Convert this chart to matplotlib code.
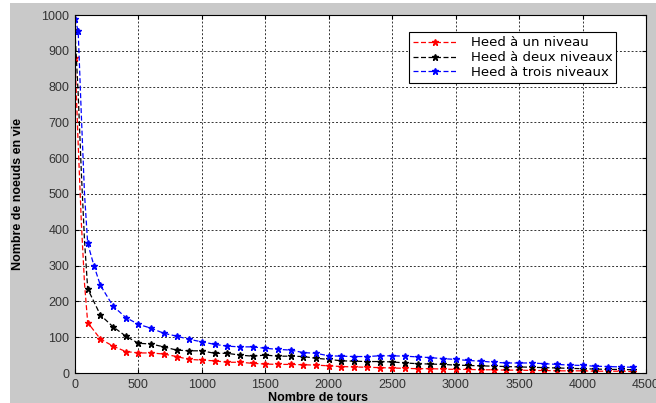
import matplotlib
matplotlib.use("Agg")
import matplotlib.pyplot as plt
from matplotlib.patches import Rectangle

plt.rcParams['font.family'] = ['Liberation Sans', 'DejaVu Sans']

# rounds (x) and nodes alive (y) for each protocol variant
x_red = [0, 25, 50, 75, 100, 200, 300, 400, 500, 600, 700, 800, 900, 1000,
         1100, 1200, 1300, 1400, 1500, 1600, 1700, 1800, 1900, 2000, 2100,
         2200, 2300, 2400, 2500, 2600, 2700, 2800, 2900, 3000, 3100, 3200,
         3300, 3400, 3500, 3600, 3700, 3800, 3900, 4000, 4100, 4200, 4300, 4400]
y_red = [880, 640, 420, 250, 141, 95, 75, 60, 56, 56, 53, 46, 38, 36,
         34, 30, 30, 27, 25, 24, 24, 23, 22, 20, 18, 17, 16, 15, 14, 13,
         12, 12, 11, 10, 10, 9, 9, 8, 8, 7, 7, 6, 6, 6, 5, 5, 5, 4]

x_black = x_red
y_black = [955, 780, 560, 370, 235, 162, 129, 103, 83, 81, 73, 64, 62, 62,
           55, 55, 50, 47, 50, 47, 47, 46, 41, 38, 34, 33, 32, 32, 31, 28,
           26, 25, 24, 22, 21, 20, 19, 18, 17, 16, 15, 14, 13, 12, 11, 10, 10, 9]

x_blue = [0, 25, 50, 75, 100, 150, 200, 300, 400, 500, 600, 700, 800, 900,
          1000, 1100, 1200, 1300, 1400, 1500, 1600, 1700, 1800, 1900, 2000,
          2100, 2200, 2300, 2400, 2500, 2600, 2700, 2800, 2900, 3000, 3100,
          3200, 3300, 3400, 3500, 3600, 3700, 3800, 3900, 4000, 4100, 4200,
          4300, 4400]
y_blue = [990, 955, 720, 500, 362, 299, 245, 187, 155, 136, 125, 111, 103,
          94, 87, 80, 75, 73, 73, 69, 66, 64, 57, 55, 48, 47, 46, 46, 48,
          48, 47, 45, 43, 40, 38, 35, 33, 30, 28, 28, 28, 26, 24, 22, 21,
          19, 18, 17, 16]

labels = ["Heed à un niveau", "Heed à deux niveaux", "Heed à trois niveaux"]

fig = plt.figure(figsize=(6.56, 4.03), dpi=100, facecolor='white')
fig.patches.append(Rectangle((10 / 656, 0), 1, 400 / 403, transform=fig.transFigure,
                             facecolor='#c9c9c9', edgecolor='none', zorder=-10))
ax = fig.add_axes([75 / 656, 30 / 403, 571 / 656, 358 / 403])
ax.set_facecolor('white')

style = dict(linestyle='--', dashes=(4, 2), linewidth=0.9, marker='*', markersize=5)
ax.plot(x_red, y_red, color='red', label=labels[0],
        markevery=[0] + list(range(4, len(x_red))), **style)
ax.plot(x_black, y_black, color='black', label=labels[1],
        markevery=[0] + list(range(4, len(x_black))), **style)
ax.plot(x_blue, y_blue, color='blue', label=labels[2],
        markevery=[0, 1] + list(range(4, len(x_blue))), **style)

ax.set_xlim(0, 4500)
ax.set_ylim(0, 1000)
ax.set_xticks(range(0, 4501, 500))
ax.set_yticks(range(0, 1001, 100))
ax.grid(True, color='#333333', linestyle=(0, (2, 2)), linewidth=0.7)
ax.tick_params(direction='in', labelsize=9, colors='black', labelcolor='#333333',
               top=True, right=True, length=3, pad=4)
for s in ax.spines.values():
    s.set_linewidth(0.8)

ax.set_xlabel("Nombre de tours", fontsize=9, fontweight='bold')
ax.set_ylabel("Nombre de noeuds en vie", fontsize=9, fontweight='bold')
ax.xaxis.set_label_coords((318 - 75) / 571, -0.052)
ax.yaxis.set_label_coords(-0.09, 0.5)

leg = ax.legend(loc='upper right', bbox_to_anchor=(0.948, 0.952),
                prop={'family': 'DejaVu Sans', 'size': 9.5},
                fancybox=False, edgecolor='black', framealpha=1,
                borderpad=0.3, labelspacing=0.15, handlelength=3.4,
                handletextpad=1.0, borderaxespad=0)
leg.get_frame().set_linewidth(0.8)

fig.savefig("out.png", dpi=100, facecolor=fig.get_facecolor())
